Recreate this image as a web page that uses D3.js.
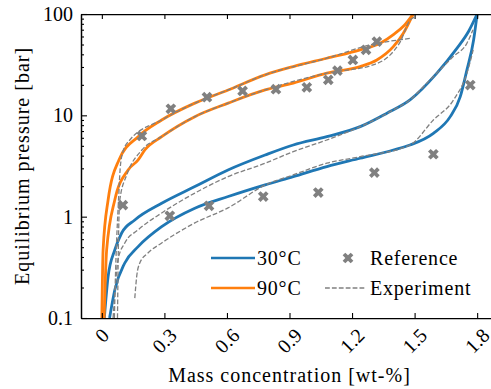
<!DOCTYPE html>
<html>
<head>
<meta charset="utf-8">
<script src="https://cdn.jsdelivr.net/npm/d3@7"></script>
<style>
    body { margin: 0; background: #fff; }
    svg text { font-family: "Liberation Serif", "DejaVu Serif", serif; fill: #000; }
</style>
</head>
<body>
<svg id="chart-svg" width="491" height="389" font-family="Liberation Serif, DejaVu Serif, serif"></svg>
<script>
// tick values and labels
const xTicks = [0, 0.3, 0.6, 0.9, 1.2, 1.5, 1.8];
const xTickLabels = ["0", "0.3", "0.6", "0.9", "1.2", "1.5", "1.8"];
const yTicks = [0.1, 1, 10, 100];
const yTickLabels = ["0.1", "1", "10", "100"];

// model curves [wt-%, bar]
const model30Des = [[0.012, 0.1], [0.030, 0.256], [0.062, 0.469], [0.095, 0.69], [0.158, 0.927], [0.287, 1.356], [0.446, 1.98], [0.605, 2.89], [0.783, 4.06], [0.918, 5.10], [1.079, 6.16], [1.239, 7.73], [1.367, 10.5], [1.478, 14.2], [1.607, 26.1], [1.70, 45], [1.76, 68], [1.80, 100]];
const model30Ads = [[0.037, 0.1], [0.062, 0.189], [0.110, 0.349], [0.174, 0.506], [0.287, 0.796], [0.446, 1.21], [0.606, 1.58], [0.783, 2.06], [0.918, 2.48], [1.079, 3.12], [1.239, 3.77], [1.398, 4.55], [1.478, 5.10], [1.590, 6.65], [1.671, 9.71], [1.719, 15.3], [1.751, 28.1], [1.783, 55.5], [1.80, 100]];
const model90Des = [[0.0, 0.1], [0.006, 0.469], [0.030, 1.46], [0.082, 3.63], [0.174, 6.16], [0.287, 9.0], [0.446, 13.2], [0.606, 17.8], [0.783, 25.1], [0.918, 30.3], [1.079, 36.6], [1.239, 44.3], [1.335, 51.5], [1.40, 63], [1.45, 77], [1.493, 100]];
const model90Ads = [[0.011, 0.1], [0.023, 0.469], [0.062, 1.46], [0.126, 2.89], [0.174, 3.63], [0.206, 4.55], [0.287, 6.16], [0.446, 9.71], [0.606, 13.2], [0.783, 17.8], [0.918, 20.8], [1.079, 26.1], [1.239, 30.3], [1.319, 35.2], [1.398, 47.6], [1.446, 64.6], [1.493, 100]];

// experiment curves
const exp30Des = [[0.054, 0.1], [0.066, 0.222], [0.077, 0.374], [0.110, 0.55], [0.173, 0.739], [0.287, 1.088], [0.446, 1.71], [0.605, 2.48], [0.783, 3.37], [0.918, 4.38], [1.079, 5.71], [1.239, 7.73], [1.398, 11.3], [1.478, 14.2], [1.559, 20.8], [1.685, 38.0], [1.751, 51.5], [1.78, 70]];
const exp30Ads = [[0.158, 0.157], [0.167, 0.256], [0.182, 0.349], [0.221, 0.438], [0.287, 0.55], [0.446, 0.867], [0.605, 1.22], [0.783, 2.05], [0.917, 2.58], [1.079, 3.37], [1.239, 3.91], [1.478, 5.10], [1.590, 9.0], [1.687, 14.2], [1.751, 26.1], [1.781, 44.3]];
const exp90Des = [[0.060, 0.1], [0.068, 0.4], [0.080, 1.46], [0.088, 3.0], [0.100, 4.3], [0.134, 5.71], [0.287, 9.0], [0.446, 13.2], [0.606, 17.8], [0.783, 25.1], [1.079, 36.6], [1.287, 49.5], [1.487, 57.7]];
const exp90Ads = [[0.075, 0.1], [0.079, 0.47], [0.086, 1.46], [0.120, 2.6], [0.190, 4.5], [0.287, 6.16], [0.446, 9.71], [0.606, 13.2], [0.783, 17.8], [1.079, 26.1], [1.301, 31.5], [1.383, 39.5], [1.431, 53.1], [1.479, 87.5], [1.503, 93.6]];

// reference points
const ref90 = [[0.101, 1.30], [0.192, 6.26], [0.331, 11.6], [0.504, 15.1], [0.675, 17.4], [0.835, 18.1], [0.983, 18.9], [1.086, 22.4], [1.130, 27.6], [1.204, 35.2], [1.267, 44.3], [1.319, 53.4]];
const ref30 = [[0.326, 1.02], [0.514, 1.28], [0.774, 1.58], [1.038, 1.73], [1.307, 2.72], [1.590, 4.13], [1.767, 19.9], [1.896, 10.1], [1.896, 1.0]];

const blue = "#1f77b4";
const orange = "#ff7f0e";
const grey = "#808080";

const svg = d3.select("#chart-svg");

const box = { left: 81, right: 498, top: 14, bottom: 318 };

const x = d3.scaleLinear([-0.1, 1.9], [box.left, box.right]);
const y = d3.scaleLog([0.1, 100], [box.bottom, box.top]);

const line = d3.line()
    .x(d => x(d[0]))
    .y(d => y(d[1]))
    .curve(d3.curveMonotoneX);

svg.append("clipPath").attr("id", "plot-clip")
    .append("rect")
    .attr("x", box.left).attr("y", box.top)
    .attr("width", box.right - box.left).attr("height", box.bottom - box.top);

const plot = svg.append("g").attr("clip-path", "url(#plot-clip)");

const xMarker = d3.symbol(d3.symbolCross, 72);

// models
[[model30Des, blue], [model30Ads, blue], [model90Des, orange], [model90Ads, orange]].forEach(([d, c]) => {
    plot.append("path").datum(d)
        .attr("d", line)
        .attr("fill", "none")
        .attr("stroke", c)
        .attr("stroke-width", 2.8);
});

// experiments
[exp30Des, exp30Ads, exp90Des, exp90Ads].forEach(d => {
    plot.append("path").datum(d)
        .attr("d", line)
        .attr("fill", "none")
        .attr("stroke", grey)
        .attr("stroke-width", 1.3)
        .attr("stroke-dasharray", "4.8,2.1");
});

// reference markers
plot.selectAll(".ref")
    .data(ref90.concat(ref30))
    .join("path")
    .attr("class", "ref")
    .attr("d", xMarker)
    .attr("fill", grey)
    .attr("transform", d => `translate(${x(d[0])},${y(d[1])}) rotate(45)`);

// axes
const minor = [];
[0.1, 1, 10].forEach(dec => { for (let k = 2; k <= 9; k++) minor.push(dec * k); });

const styleAxis = g => {
    g.select(".domain").attr("stroke", "#000").attr("stroke-width", 1.25);
    g.selectAll(".tick line").attr("stroke", "#000").attr("stroke-width", 1.1);
};

svg.append("g")
    .attr("transform", `translate(0,${box.bottom})`)
    .call(d3.axisBottom(x).tickValues(xTicks).tickSize(-5).tickSizeOuter(0).tickFormat(""))
    .call(styleAxis);

svg.append("g")
    .attr("transform", `translate(0,${box.top})`)
    .call(d3.axisTop(x).tickValues(xTicks).tickSize(-5).tickSizeOuter(0).tickFormat(""))
    .call(styleAxis);

svg.append("g")
    .attr("transform", `translate(${box.left},0)`)
    .call(d3.axisLeft(y).tickValues(minor).tickSize(-3).tickSizeOuter(0).tickFormat(""))
    .call(styleAxis);

svg.append("g")
    .attr("transform", `translate(${box.left},0)`)
    .call(d3.axisLeft(y).tickValues(yTicks).tickSize(-6).tickSizeOuter(0).tickFormat(""))
    .call(styleAxis);

// y tick labels
svg.append("g").selectAll("text")
    .data(yTicks)
    .join("text")
    .attr("x", box.left - 8)
    .attr("y", d => y(d))
    .attr("text-anchor", "end")
    .attr("dominant-baseline", "central")
    .attr("font-size", 20)
    .text((d, i) => yTickLabels[i]);

// x tick labels, rotated 45 degrees, bbox centred under tick
svg.append("g").selectAll("text")
    .data(xTicks)
    .join("text")
    .attr("text-anchor", "middle")
    .attr("dominant-baseline", "central")
    .attr("font-size", 20)
    .text((d, i) => xTickLabels[i])
    .each(function (d) {
        const L = this.getComputedTextLength();
        const cy = box.bottom + 9 + 0.354 * (L + 13.5);
        d3.select(this).attr("transform", `translate(${x(d)},${cy}) rotate(-45)`);
    });

// axis labels
svg.append("text")
    .attr("x", (box.left + box.right) / 2)
    .attr("y", 382)
    .attr("text-anchor", "middle")
    .attr("font-size", 20)
    .attr("letter-spacing", 1)
    .text("Mass concentration [wt-%]");

svg.append("text")
    .attr("transform", `translate(22,${(box.top + box.bottom) / 2}) rotate(-90)`)
    .attr("text-anchor", "middle")
    .attr("dominant-baseline", "central")
    .attr("font-size", 20)
    .attr("letter-spacing", 1)
    .text("Equilibrium pressure [bar]");

// legend
const legend = svg.append("g").attr("id", "legend");

const legendRows = [
    { label: "30°C", color: blue, x: 211, y: 258 },
    { label: "90°C", color: orange, x: 211, y: 288 },
];
legendRows.forEach(r => {
    legend.append("line")
        .attr("x1", r.x).attr("x2", r.x + 44)
        .attr("y1", r.y).attr("y2", r.y)
        .attr("stroke", r.color).attr("stroke-width", 2.4);
    legend.append("text")
        .attr("x", r.x + 46).attr("y", r.y + 7)
        .attr("font-size", 20).attr("letter-spacing", 0.8)
        .text(r.label);
});

legend.append("path")
    .attr("d", xMarker)
    .attr("fill", grey)
    .attr("transform", "translate(348,258) rotate(45)");
legend.append("text")
    .attr("x", 370).attr("y", 265)
    .attr("font-size", 20).attr("letter-spacing", 0.8)
    .text("Reference");

legend.append("line")
    .attr("x1", 325).attr("x2", 366)
    .attr("y1", 288).attr("y2", 288)
    .attr("stroke", grey).attr("stroke-width", 1.3)
    .attr("stroke-dasharray", "4.8,2.1");
legend.append("text")
    .attr("x", 370).attr("y", 295)
    .attr("font-size", 20).attr("letter-spacing", 0.8)
    .text("Experiment");
</script>
</body>
</html>
